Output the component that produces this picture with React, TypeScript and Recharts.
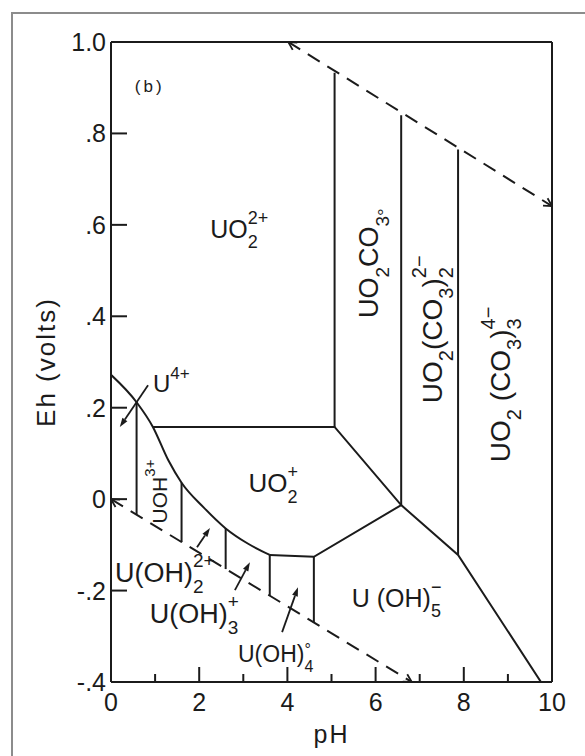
import React from 'react'
import { LineChart, Line, XAxis, YAxis, ReferenceDot, ReferenceLine } from 'recharts'

const FONT = "'Liberation Sans', Arial, Helvetica, sans-serif"
const INK = '#1b1b1b'

// axis ticks
const phTicks = [0, 1, 2, 3, 4, 5, 6, 7, 8, 9, 10]
const phTickLabels = ['0', '', '2', '', '4', '', '6', '', '8', '', '10']
const ehTicks = [-0.4, -0.2, 0, 0.2, 0.4, 0.6, 0.8, 1.0]
const ehTickLabels = ['-.4', '-.2', '0', '.2', '.4', '.6', '.8', '1.0']

// stability limits of water (dashed)
const waterUpper = [{ ph: 4.02, eh: 1.0 }, { ph: 10, eh: 0.641 }]
const waterLower = [{ ph: 0, eh: 0 }, { ph: 6.82, eh: -0.4 }]

// U(IV) boundary, curved part
const u4Curve = [
  { ph: 0, eh: 0.272 },
  { ph: 0.58, eh: 0.212 },
  { ph: 0.95, eh: 0.158 },
  { ph: 1.3, eh: 0.085 },
  { ph: 1.6, eh: 0.036 },
  { ph: 2.1, eh: -0.018 },
  { ph: 2.6, eh: -0.064 },
  { ph: 3.1, eh: -0.097 },
  { ph: 3.6, eh: -0.122 },
]

// UO2+ field edges
const uo2PlusUpper = [
  { ph: 0.95, eh: 0.158 },
  { ph: 5.07, eh: 0.158 },
  { ph: 6.58, eh: -0.013 },
  { ph: 7.87, eh: -0.122 },
  { ph: 9.75, eh: -0.4 },
]
const uo2PlusLower = [
  { ph: 3.6, eh: -0.122 },
  { ph: 4.6, eh: -0.126 },
  { ph: 6.58, eh: -0.013 },
]

// carbonate complexes, vertical boundaries
const carbPh = [5.07, 6.58, 7.87]
const carbTop = [0.933, 0.84, 0.765]
const carbBottom = [0.158, -0.013, -0.122]

// hydrolysis species, vertical boundaries
const hydPh = [0.58, 1.6, 2.6, 3.6, 4.6]
const hydTop = [0.212, 0.036, -0.064, -0.122, -0.126]
const hydBottom = [-0.034, -0.094, -0.153, -0.211, -0.27]

const carbSegments = carbPh.map((ph, i) => [{ ph, eh: carbTop[i] }, { ph, eh: carbBottom[i] }])
const hydSegments = hydPh.map((ph, i) => [{ ph, eh: hydTop[i] }, { ph, eh: hydBottom[i] }])

type Part = { t: string; sub?: string; sup?: string; tail?: string }
type FieldLabel = { ph: number; eh: number; size: number; vertical?: boolean; spacing?: number; parts: Part[] }

const fieldLabels: FieldLabel[] = [
  { ph: 0.54, eh: 0.89, size: 17, spacing: 3, parts: [{ t: '(b)' }] },
  { ph: 2.25, eh: 0.571, size: 25, parts: [{ t: 'UO', sub: '2', sup: '2+' }] },
  { ph: 6.05, eh: 0.396, size: 27, vertical: true, parts: [{ t: 'UO', sub: '2' }, { t: 'CO', sub: '3', tail: '°' }] },
  { ph: 7.5, eh: 0.21, size: 28, vertical: true, parts: [{ t: 'UO', sub: '2' }, { t: '(CO', sub: '3' }, { t: ')', sub: '2', sup: '2−' }] },
  { ph: 9.05, eh: 0.081, size: 28, vertical: true, parts: [{ t: 'UO', sub: '2' }, { t: ' (CO', sub: '3' }, { t: ')', sub: '3', sup: '4−' }] },
  { ph: 0.95, eh: 0.234, size: 24, parts: [{ t: 'U', sup: '4+' }] },
  { ph: 1.27, eh: -0.053, size: 21, vertical: true, parts: [{ t: 'UOH', sup: '3+' }] },
  { ph: 3.12, eh: 0.015, size: 26, parts: [{ t: 'UO', sub: '2', sup: '+' }] },
  { ph: 0.09, eh: -0.182, size: 27, parts: [{ t: 'U(OH)', sub: '2', sup: '2+' }] },
  { ph: 0.88, eh: -0.271, size: 27, parts: [{ t: 'U(OH)', sub: '3', sup: '+' }] },
  { ph: 2.88, eh: -0.357, size: 23, parts: [{ t: 'U(OH)', sub: '4', sup: '°' }] },
  { ph: 5.46, eh: -0.236, size: 25, parts: [{ t: 'U (OH)', sub: '5', sup: '−' }] },
]

// little pointer arrows from labels into narrow fields
const pointers = [
  { from: { ph: 0.84, eh: 0.249 }, to: { ph: 0.2, eh: 0.158 } },
  { from: { ph: 1.95, eh: -0.105 }, to: { ph: 2.245, eh: -0.063 } },
  { from: { ph: 2.81, eh: -0.199 }, to: { ph: 3.15, eh: -0.138 } },
  { from: { ph: 3.88, eh: -0.291 }, to: { ph: 4.24, eh: -0.193 } },
]

const X_GAP = 11
const Y_GAP = 5

const BottomTick = (props: any) => {
  const { x, y, payload } = props
  const i = phTicks.findIndex((v) => Math.abs(v - payload.value) < 1e-6)
  const axisY = y - X_GAP
  const len = payload.value % 2 === 0 ? 15 : 8
  return (
    <g>
      <line x1={x} x2={x} y1={axisY} y2={axisY - len} stroke={INK} strokeWidth={2} />
      {phTickLabels[i] ? (
        <text x={x} y={y} dy="0.71em" textAnchor="middle" fontFamily={FONT} fontSize={25} fill={INK}>
          {phTickLabels[i]}
        </text>
      ) : null}
    </g>
  )
}

const TopTick = (props: any) => {
  const { x, y, payload } = props
  const len = payload.value % 2 === 0 ? 15 : 8
  return <line x1={x} x2={x} y1={y} y2={y + len} stroke={INK} strokeWidth={2} />
}

const LeftTick = (props: any) => {
  const { x, y, payload } = props
  const i = ehTicks.findIndex((v) => Math.abs(v - payload.value) < 1e-6)
  const axisX = x + Y_GAP
  return (
    <g>
      <line x1={axisX} x2={axisX + 16} y1={y} y2={y} stroke={INK} strokeWidth={2} />
      <text x={x} y={y} dy="0.36em" textAnchor="end" fontFamily={FONT} fontSize={25} fill={INK}>
        {ehTickLabels[i]}
      </text>
    </g>
  )
}

const RightTick = (props: any) => {
  const { x, y } = props
  return <line x1={x} x2={x - 13} y1={y} y2={y} stroke={INK} strokeWidth={2} />
}

const ChemText = ({ x, y, label }: { x: number; y: number; label: FieldLabel }) => {
  const F = label.size
  const s = Math.round(F * 0.7)
  const SUB = F * 0.4
  const spans: React.ReactNode[] = []
  let cur = 0
  label.parts.forEach((p, i) => {
    spans.push(<tspan key={`m${i}`} fontSize={F} dy={-cur}>{p.t}</tspan>)
    cur = 0
    if (p.sub) {
      spans.push(<tspan key={`b${i}`} fontSize={s} dy={SUB}>{p.sub}</tspan>)
      cur = SUB
    }
    if (p.sup) {
      const up = p.sup === '°' ? -F * 0.3 : -F * 0.55
      spans.push(
        <tspan key={`p${i}`} fontSize={s} dx={p.sub ? -0.556 * s * p.sub.length : 0} dy={up - cur}>
          {p.sup}
        </tspan>
      )
      cur = up
    }
    if (p.tail) {
      const down = F * 0.5
      spans.push(<tspan key={`t${i}`} fontSize={s} dy={down - cur}>{p.tail}</tspan>)
      cur = down
    }
  })
  return (
    <text
      x={x}
      y={y}
      fontFamily={FONT}
      fill={INK}
      letterSpacing={label.spacing}
      transform={label.vertical ? `rotate(-90 ${x} ${y})` : undefined}
    >
      {spans}
    </text>
  )
}

// open arrowheads at the ends of the dashed water lines
const endMark = (props: any) => {
  const { cx, cy, index, points } = props
  const key = `end-${index}`
  if (!points || points.length < 2 || (index !== 0 && index !== points.length - 1)) return <g key={key} />
  const other = index === 0 ? points[1] : points[index - 1]
  const a = Math.atan2(cy - other.y, cx - other.x)
  const L = 9
  const w = 0.5
  const p1 = [cx - L * Math.cos(a - w), cy - L * Math.sin(a - w)]
  const p2 = [cx - L * Math.cos(a + w), cy - L * Math.sin(a + w)]
  return (
    <polyline
      key={key}
      points={`${p1[0]},${p1[1]} ${cx},${cy} ${p2[0]},${p2[1]}`}
      fill="none"
      stroke={INK}
      strokeWidth={1.8}
    />
  )
}

const pointerShape = (props: any) => {
  const { x1, y1, x2, y2 } = props
  const a = Math.atan2(y2 - y1, x2 - x1)
  const L = 9
  const W = 3
  const bx = x2 - L * Math.cos(a)
  const by = y2 - L * Math.sin(a)
  const pts = `${x2},${y2} ${bx + W * Math.sin(a)},${by - W * Math.cos(a)} ${bx - W * Math.sin(a)},${by + W * Math.cos(a)}`
  return (
    <g>
      <line x1={x1} y1={y1} x2={bx} y2={by} stroke={INK} strokeWidth={1.8} />
      <polygon points={pts} fill={INK} />
    </g>
  )
}

const solid = { stroke: INK, strokeWidth: 2, dot: false, activeDot: false, isAnimationActive: false }

export default function App() {
  return (
    <div style={{ position: 'absolute', left: 0, top: 0, width: 585, height: 756, background: '#fff' }}>
      <div
        style={{
          position: 'absolute',
          left: 11,
          top: 12,
          width: 574,
          height: 744,
          boxSizing: 'border-box',
          borderLeft: '2px solid #8c8c8c',
          borderTop: '2px solid #8c8c8c',
        }}
      />
      <div style={{ position: 'absolute', left: 0, top: 0 }}>
        <LineChart width={585} height={756} margin={{ top: 0, right: 0, bottom: 0, left: 0 }}>
          <XAxis
            dataKey="ph"
            type="number"
            domain={[0, 10]}
            ticks={phTicks}
            interval={0}
            height={74}
            tickSize={0}
            tickMargin={X_GAP}
            tick={BottomTick}
            axisLine={{ stroke: INK, strokeWidth: 2 }}
            allowDataOverflow
            label={{ value: 'pH', position: 'insideBottom', offset: 13, fontSize: 25, fill: INK, fontFamily: FONT, letterSpacing: 2 }}
          />
          <XAxis
            xAxisId="top"
            orientation="top"
            type="number"
            domain={[0, 10]}
            ticks={phTicks}
            interval={0}
            height={42}
            tickSize={0}
            tickMargin={0}
            tick={TopTick}
            axisLine={{ stroke: INK, strokeWidth: 2 }}
          />
          <YAxis
            type="number"
            domain={[-0.4, 1.0]}
            ticks={ehTicks}
            interval={0}
            width={111}
            tickSize={0}
            tickMargin={Y_GAP}
            tick={LeftTick}
            axisLine={{ stroke: INK, strokeWidth: 2 }}
            allowDataOverflow
            label={{
              value: 'Eh (volts)',
              angle: -90,
              position: 'insideLeft',
              offset: 46,
              fontSize: 26,
              fill: INK,
              fontFamily: FONT,
              letterSpacing: 2,
              style: { textAnchor: 'middle' },
            }}
          />
          <YAxis
            yAxisId="right"
            orientation="right"
            type="number"
            domain={[-0.4, 1.0]}
            ticks={ehTicks}
            interval={0}
            width={33}
            tickSize={0}
            tickMargin={0}
            tick={RightTick}
            axisLine={{ stroke: INK, strokeWidth: 2 }}
          />

          <Line data={waterUpper} dataKey="eh" type="linear" stroke={INK} strokeWidth={2} strokeDasharray="14 9" dot={endMark} activeDot={false} isAnimationActive={false} />
          <Line data={waterLower} dataKey="eh" type="linear" stroke={INK} strokeWidth={2} strokeDasharray="14 9" dot={endMark} activeDot={false} isAnimationActive={false} />

          <Line data={u4Curve} dataKey="eh" type="monotone" {...solid} />
          <Line data={uo2PlusUpper} dataKey="eh" type="linear" {...solid} />
          <Line data={uo2PlusLower} dataKey="eh" type="linear" {...solid} />
          {carbSegments.map((seg, i) => (
            <Line key={`c${i}`} data={seg} dataKey="eh" type="linear" {...solid} />
          ))}
          {hydSegments.map((seg, i) => (
            <Line key={`h${i}`} data={seg} dataKey="eh" type="linear" {...solid} />
          ))}

          {pointers.map((p, i) => (
            <ReferenceLine
              key={`p${i}`}
              segment={[{ x: p.from.ph, y: p.from.eh }, { x: p.to.ph, y: p.to.eh }]}
              shape={pointerShape}
            />
          ))}

          {fieldLabels.map((l, i) => (
            <ReferenceDot
              key={`l${i}`}
              x={l.ph}
              y={l.eh}
              r={0}
              shape={(props: any) => <ChemText x={props.cx} y={props.cy} label={l} />}
            />
          ))}
        </LineChart>
      </div>
    </div>
  )
}
